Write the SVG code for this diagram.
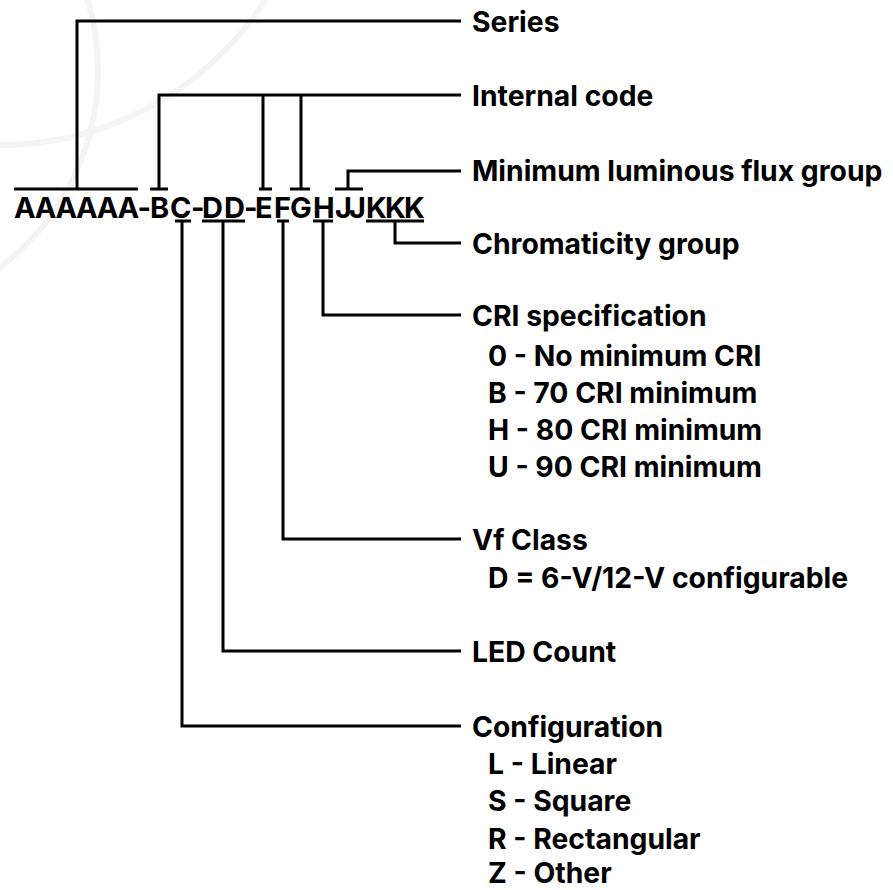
<svg xmlns="http://www.w3.org/2000/svg" width="893" height="890" viewBox="0 0 893 890">
<style>
.t{font-family:Inter,"Liberation Sans",sans-serif;font-weight:700;font-size:28.3px;fill:#000}
.pn{font-family:Inter,"Liberation Sans",sans-serif;font-weight:700;font-size:29px;fill:#000}
.c{fill:none;stroke:#000;stroke-width:3}
.wm{fill:none;stroke:#f4f4f4;stroke-width:6}
</style>
<rect width="893" height="890" fill="#fff"/>
<g id="watermark">
<circle class="wm" cx="-150" cy="70" r="248"/>
<circle class="wm" cx="0" cy="-170" r="315"/>
</g>
<g id="part-number">
<text class="pn" x="14 34.7 55.4 76 96.7 117.4 137.5 150 170 191 202 224 244 255 274 290 313 335 349 366 385 404" y="218">AAAAAA-BC-DD-EFGHJJKKK</text>
</g>
<g id="connectors">
<path class="c" d="M14,189H138M77,189V21H461"/>
<path class="c" d="M150,189H168M159,189V95H461M259,189H272M263,189V95M290,189H310M301,189V95"/>
<path class="c" d="M335,189H363M348,189V171H461"/>
<path class="c" d="M366,221H424M395,221V243H461"/>
<path class="c" d="M313,221H333M323,221V315H461"/>
<path class="c" d="M277,221H289M283,221V539H461"/>
<path class="c" d="M202,221H245M223,221V651H461"/>
<path class="c" d="M175,221H191M182,221V726H461"/>
</g>
<g id="series"><text class="t" x="472" y="32">Series</text></g>
<g id="internal-code"><text class="t" x="472" y="106">Internal code</text></g>
<g id="flux-group"><text class="t" x="472" y="181">Minimum luminous flux group</text></g>
<g id="chromaticity"><text class="t" x="472" y="254">Chromaticity group</text></g>
<g id="cri">
<text class="t" x="472" y="326">CRI specification</text>
<text class="t" x="488" y="366">0 - No minimum CRI</text>
<text class="t" x="488" y="403">B - 70 CRI minimum</text>
<text class="t" x="488" y="440">H - 80 CRI minimum</text>
<text class="t" x="488" y="477">U - 90 CRI minimum</text>
</g>
<g id="vf-class">
<text class="t" x="472" y="550">Vf Class</text>
<text class="t" x="488" y="588">D = 6-V/12-V configurable</text>
</g>
<g id="led-count"><text class="t" x="472" y="662">LED Count</text></g>
<g id="configuration">
<text class="t" x="472" y="737">Configuration</text>
<text class="t" x="488" y="774">L - Linear</text>
<text class="t" x="488" y="811">S - Square</text>
<text class="t" x="488" y="849">R - Rectangular</text>
<text class="t" x="488" y="883">Z - Other</text>
</g>
</svg>
